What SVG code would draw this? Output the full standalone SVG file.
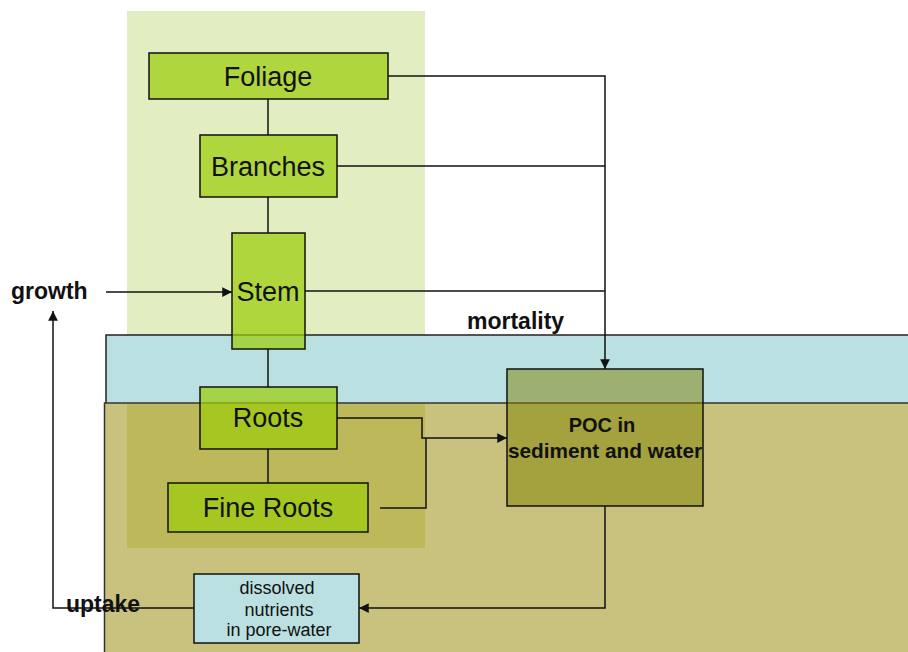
<svg xmlns="http://www.w3.org/2000/svg" width="908" height="652" viewBox="0 0 908 652">
<defs>
<style>
.box{fill:rgb(156,205,11);fill-opacity:0.72;stroke:#111;stroke-width:1.5}
.lbl{font-family:"Liberation Sans",Arial,sans-serif;font-size:27px;fill:#111;text-anchor:middle}
.bold{font-family:"Liberation Sans",Arial,sans-serif;font-size:23px;font-weight:bold;fill:#111}
.small{font-family:"Liberation Sans",Arial,sans-serif;font-size:18px;fill:#111;text-anchor:middle}
.con{fill:none;stroke:#111;stroke-width:1.5}
</style>
<marker id="arr" viewBox="0 0 10 10" refX="10" refY="5" markerWidth="6.5" markerHeight="6.5" markerUnits="strokeWidth" orient="auto">
<path d="M0,0 L10,5 L0,10 z" fill="#111"/>
</marker>
</defs>
<rect width="908" height="652" fill="#fff"/>
<g id="background">
<rect x="127" y="11" width="298" height="537" fill="#e2eec1"/>
<rect x="106" y="335" width="810" height="80" fill="#bae0e2" stroke="#222" stroke-width="1.5"/>
<rect x="104.5" y="403" width="810" height="260" fill="#c9c27e" stroke="#333" stroke-width="1.5"/>
<rect x="127" y="404" width="298" height="144" fill="#bdb85a"/>
</g>
<g id="connectors">
<polyline class="con" points="268,99 268,135"/>
<polyline class="con" points="268,197 268,233"/>
<polyline class="con" points="268,349 268,387"/>
<polyline class="con" points="268,449 268,483"/>
<polyline class="con" points="388,76 605,76 605,369" marker-end="url(#arr)"/>
<polyline class="con" points="337,166 605,166"/>
<polyline class="con" points="305,291 605,291"/>
<polyline class="con" points="106,292 232,292" marker-end="url(#arr)"/>
<polyline class="con" points="337,418 422,418 422,438 507,438" marker-end="url(#arr)"/>
<polyline class="con" points="380,508 426,508 426,438"/>
<polyline class="con" points="605,506 605,608 359,608" marker-end="url(#arr)"/>
<polyline class="con" points="194,608 53,608 53,311" marker-end="url(#arr)"/>
</g>
<g id="foliage"><rect class="box" x="149" y="53" width="239" height="46"/><text class="lbl" x="268" y="86">Foliage</text></g>
<g id="branches"><rect class="box" x="200" y="135" width="137" height="62"/><text class="lbl" x="268" y="176">Branches</text></g>
<g id="stem"><rect class="box" x="232" y="233" width="73" height="116"/><text class="lbl" x="268" y="301">Stem</text></g>
<g id="roots"><rect class="box" x="200" y="387" width="137" height="62"/><text class="lbl" x="268" y="427">Roots</text></g>
<g id="fine-roots"><rect class="box" x="168" y="483" width="200" height="49"/><text class="lbl" x="268" y="517">Fine Roots</text></g>
<g id="poc"><rect x="507" y="369" width="196" height="137" fill="olive" fill-opacity="0.5" stroke="#111" stroke-width="1.5"/>
<text class="bold" x="602" y="432" text-anchor="middle" style="font-size:20px">POC in</text>
<text class="bold" x="605" y="458" text-anchor="middle" style="font-size:20.8px">sediment and water</text></g>
<g id="dissolved"><rect x="194" y="574" width="165" height="69" fill="#bae0e2" stroke="#111" stroke-width="1.5"/>
<text class="small" x="277" y="594">dissolved</text>
<text class="small" x="279" y="616">nutrients</text>
<text class="small" x="279" y="636">in pore-water</text></g>
<g id="labels">
<text class="bold" x="11" y="299">growth</text>
<text class="bold" x="467" y="329">mortality</text>
<text class="bold" x="66" y="612">uptake</text>
</g>
</svg>
